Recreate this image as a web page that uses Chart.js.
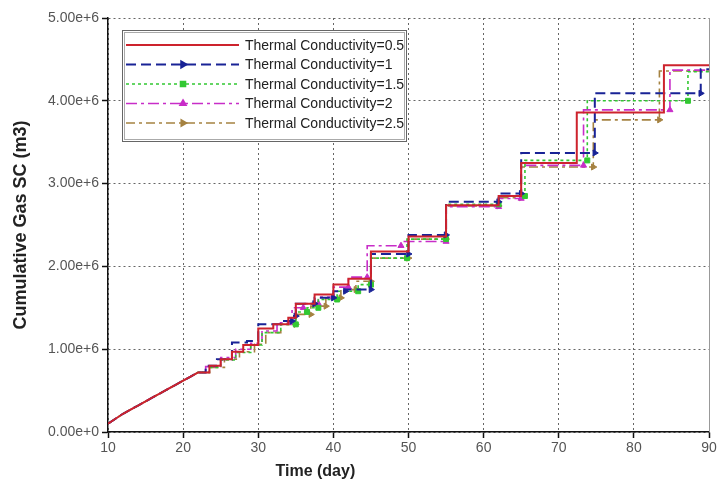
<!DOCTYPE html>
<html>
<head>
<meta charset="utf-8">
<script src="https://cdn.jsdelivr.net/npm/chart.js@4/dist/chart.umd.min.js"></script>
<style>
  html, body { margin: 0; padding: 0; background: #fff; }
  #wrap { width: 719px; height: 494px; }
</style>
</head>
<body>
<div id="wrap"><canvas id="gasChart" width="719" height="494"></canvas></div>
<script>
// shared early curve (all cases overlap here), values in 1e6 m3
const earlyDays = [10, 11, 12, 13, 14, 15, 16, 17, 18, 19, 20, 21, 22];
const earlyGas = [0.10, 0.16, 0.22, 0.27, 0.32, 0.37, 0.42, 0.47, 0.52, 0.57, 0.62, 0.67, 0.72];

// step boundaries (days) and plateau levels (1e6 m3) after day 22
const tc05Days = [22, 23.5, 25, 26.5, 28, 30, 32, 34, 35, 37.5, 40, 42, 45, 50, 55, 62, 65, 72.4, 84, 90];
const tc05Gas = [0.72, 0.80, 0.88, 0.97, 1.05, 1.25, 1.30, 1.38, 1.55, 1.66, 1.78, 1.85, 2.18, 2.36, 2.74, 2.85, 3.25, 3.86, 4.43];

const tc1Days = [22, 23, 24.5, 26.5, 28.5, 30, 33, 34.5, 35, 37.5, 40, 41.6, 45, 50, 55, 62, 65, 74.8, 88.9, 90];
const tc1Gas = [0.72, 0.80, 0.88, 1.08, 1.10, 1.30, 1.34, 1.40, 1.55, 1.62, 1.70, 1.72, 2.15, 2.38, 2.78, 2.88, 3.37, 4.09, 4.38];

const tc15Days = [22, 23.5, 25, 27, 29, 30.5, 33, 35, 36.5, 38, 40.5, 43.3, 45, 49.8, 55, 62, 65.5, 73.8, 87.2, 90];
const tc15Gas = [0.72, 0.78, 0.87, 0.96, 1.05, 1.20, 1.30, 1.45, 1.50, 1.60, 1.70, 1.78, 2.10, 2.33, 2.75, 2.85, 3.28, 4.00, 4.35];

const tc2Days = [22, 23, 25, 27, 29, 30.5, 32.5, 34.5, 36, 38, 40, 42, 44.5, 49, 55, 62, 65, 73.3, 84.8, 90];
const tc2Gas = [0.72, 0.79, 0.90, 1.00, 1.07, 1.22, 1.32, 1.50, 1.55, 1.63, 1.75, 1.87, 2.25, 2.30, 2.72, 2.82, 3.22, 3.89, 4.37];

const tc25Days = [22, 23.5, 25.5, 27.5, 29.5, 31, 33, 35, 37, 39, 41, 43, 45, 50, 55, 62, 65, 74.6, 83.4, 90];
const tc25Gas = [0.72, 0.78, 0.88, 0.97, 1.06, 1.20, 1.30, 1.42, 1.52, 1.62, 1.72, 1.82, 2.10, 2.33, 2.73, 2.83, 3.20, 3.77, 4.36];

const seriesLabels = ['Thermal Conductivity=0.5', 'Thermal Conductivity=1', 'Thermal Conductivity=1.5',
  'Thermal Conductivity=2', 'Thermal Conductivity=2.5'];

const xTicks = [10, 20, 30, 40, 50, 60, 70, 80, 90];

// turn plateau lists into chart points, marker at the end of each plateau
function buildSeries(days, gas) {
  const pts = [];
  const radius = [];
  for (let i = 0; i < earlyDays.length - 1; i++) {
    pts.push({ x: earlyDays[i], y: earlyGas[i] * 1e6 });
    radius.push(0);
  }
  for (let i = 0; i < gas.length; i++) {
    pts.push({ x: days[i], y: gas[i] * 1e6 });
    radius.push(0);
    pts.push({ x: days[i + 1], y: gas[i] * 1e6 });
    radius.push(i > 5 && i < gas.length - 1 ? 3.5 : 0);
  }
  return { pts, radius };
}

const styles = [
  { color: 'rgb(205,35,45)', dash: [], width: 2, point: 'line' },
  { color: 'rgb(25,35,150)', dash: [10, 5], width: 2, point: 'triangle', rot: 90 },
  { color: 'rgb(50,200,50)', dash: [3, 3], width: 1.6, point: 'rect' },
  { color: 'rgb(200,45,200)', dash: [11, 4, 3, 4], width: 1.6, point: 'triangle' },
  { color: 'rgb(165,130,65)', dash: [9, 4, 3, 4], width: 1.6, point: 'triangle', rot: 90 }
];

const allDays = [tc05Days, tc1Days, tc15Days, tc2Days, tc25Days];
const allGas = [tc05Gas, tc1Gas, tc15Gas, tc2Gas, tc25Gas];

const datasets = seriesLabels.map(function (label, k) {
  const s = buildSeries(allDays[k], allGas[k]);
  const st = styles[k];
  return {
    label: label,
    data: s.pts,
    borderColor: st.color,
    backgroundColor: st.color,
    borderWidth: st.width,
    borderDash: st.dash,
    pointRadius: k === 0 ? 0 : s.radius,
    pointStyle: st.point,
    rotation: st.rot || 0,
    pointBorderWidth: 1,
    tension: 0,
    fill: false
  };
});

// legend box drawn inside the plot, top left
const boxLegend = {
  id: 'boxLegend',
  afterDraw(chart) {
    const ctx = chart.ctx;
    const a = chart.chartArea;
    const x0 = a.left + 14, y0 = a.top + 12, w = 284, h = 111;
    ctx.save();
    ctx.fillStyle = '#fff';
    ctx.fillRect(x0, y0, w, h);
    ctx.strokeStyle = '#666';
    ctx.lineWidth = 1;
    ctx.strokeRect(x0 + 0.5, y0 + 0.5, w, h);
    ctx.strokeStyle = '#aaa';
    ctx.strokeRect(x0 + 2.5, y0 + 2.5, w - 4, h - 4);
    ctx.font = '14px "Liberation Sans", Arial, sans-serif';
    ctx.textBaseline = 'middle';
    chart.data.datasets.forEach(function (ds, k) {
      const yy = y0 + 15 + k * 19.5;
      ctx.strokeStyle = ds.borderColor;
      ctx.lineWidth = ds.borderWidth;
      ctx.setLineDash(ds.borderDash);
      ctx.beginPath();
      ctx.moveTo(x0 + 4, yy);
      ctx.lineTo(x0 + 117, yy);
      ctx.stroke();
      ctx.setLineDash([]);
      if (k > 0) {
        Chart.helpers.drawPoint(ctx, {
          pointStyle: ds.pointStyle, radius: 3.5, rotation: ds.rotation, borderWidth: 1
        }, x0 + 61, yy);
        ctx.fillStyle = ds.backgroundColor;
        ctx.fill();
      }
      ctx.fillStyle = '#222';
      ctx.fillText(ds.label, x0 + 123, yy + 1);
    });
    ctx.restore();
  }
};

// thin frame on the right, x title placed like the original
const frameAndTitle = {
  id: 'frameAndTitle',
  afterDraw(chart) {
    const ctx = chart.ctx;
    const a = chart.chartArea;
    ctx.save();
    ctx.strokeStyle = '#999';
    ctx.lineWidth = 1;
    ctx.beginPath();
    ctx.moveTo(a.right + 0.5, a.bottom);
    ctx.lineTo(a.right + 0.5, a.top);
    ctx.stroke();
    ctx.font = 'bold 16px "Liberation Sans", Arial, sans-serif';
    ctx.fillStyle = '#222';
    ctx.textAlign = 'center';
    ctx.textBaseline = 'middle';
    ctx.fillText('Time (day)', a.left + (a.right - a.left) * 0.345, a.bottom + 40);
    ctx.restore();
  }
};

const config = {
  type: 'line',
  data: { datasets: datasets },
  options: {
    responsive: false,
    animation: false,
    layout: { padding: { top: 18, right: 10, left: 0, bottom: 0 } },
    plugins: {
      legend: { display: false },
      tooltip: { enabled: false }
    },
    scales: {
      x: {
        type: 'linear',
        min: 10,
        max: 90,
        afterBuildTicks: function (scale) {
          scale.ticks = xTicks.map(function (v) { return { value: v }; });
        },
        afterFit: function (scale) { scale.height = 62; },
        grid: { color: '#666', lineWidth: 1, tickLength: 6, tickColor: '#111', tickWidth: 1.5 },
        border: { display: true, color: '#111', width: 1.5, dash: [2, 3] },
        ticks: { color: '#555', font: { size: 14, family: '"Liberation Sans", Arial, sans-serif' }, padding: 2, maxRotation: 0 }
      },
      y: {
        type: 'linear',
        min: 0,
        max: 5e6,
        afterFit: function (scale) { scale.width = 108; },
        grid: { color: '#666', lineWidth: 1, tickLength: 6, tickColor: '#111', tickWidth: 1.5 },
        border: { display: true, color: '#111', width: 1.5, dash: [2, 3] },
        ticks: {
          stepSize: 1e6,
          color: '#555',
          padding: 3,
          font: { size: 14, family: '"Liberation Sans", Arial, sans-serif' },
          callback: function (v) { return Number(v).toExponential(2); }
        },
        title: {
          display: true,
          text: 'Cumulative Gas SC (m3)',
          color: '#222',
          font: { size: 18, weight: 'bold', family: '"Liberation Sans", Arial, sans-serif' },
          padding: { top: 10, bottom: 0 }
        }
      }
    }
  },
  plugins: [boxLegend, frameAndTitle]
};

const myChart = new Chart(document.getElementById('gasChart'), config);
</script>
</body>
</html>
